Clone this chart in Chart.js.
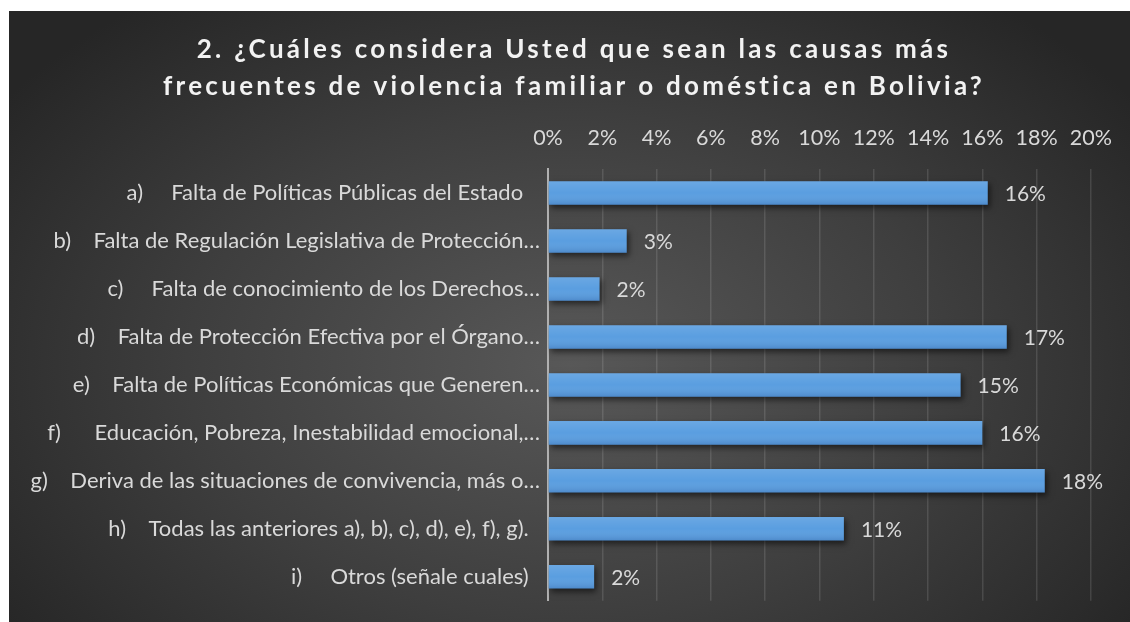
<!DOCTYPE html>
<html>
<head>
<meta charset="utf-8">
<script src="https://cdn.jsdelivr.net/npm/chart.js@4.4.1/dist/chart.umd.min.js"></script>
<style>
    html, body { margin: 0; padding: 0; background: #ffffff; }
    #wrap {
        position: absolute; left: 9px; top: 11px; width: 1121px; height: 611px;
        background: radial-gradient(ellipse 62% 75% at 50% 58%, #585858 0%, #3e3e3e 55%, #262626 100%);
    }
</style>
</head>
<body>
<div id="wrap"><canvas id="causes" width="1121" height="611"></canvas></div>
<script>
const titleLines = [
    '2. ¿Cuáles considera Usted que sean las causas más',
    'frecuentes de violencia familiar o doméstica en Bolivia?'
];
const categories = [
    'a)     Falta de Políticas Públicas del Estado   ',
    'b)    Falta de Regulación Legislativa de Protección…',
    'c)     Falta de conocimiento de los Derechos…',
    'd)    Falta de Protección Efectiva por el Órgano…',
    'e)    Falta de Políticas Económicas que Generen…',
    'f)      Educación, Pobreza, Inestabilidad emocional,…',
    'g)    Deriva de las situaciones de convivencia, más o…',
    'h)    Todas las anteriores a), b), c), d), e), f), g).  ',
    'i)     Otros (señale cuales)  '
];
const percentages = [16.2, 2.9, 1.9, 16.9, 15.2, 16.0, 18.3, 10.9, 1.7];
const tickMax = 20;
const tickStep = 2;

const textColor = '#d9d9d9';
const fontFamily = 'Lato, "Open Sans", sans-serif';

// titulo con espaciado entre letras
const spacedTitle = {
    id: 'spacedTitle',
    afterDraw(chart) {
        const ctx = chart.ctx;
        ctx.save();
        ctx.font = 'bold 26px ' + fontFamily;
        ctx.letterSpacing = '3.3px';
        ctx.fillStyle = '#f2f2f2';
        ctx.textAlign = 'center';
        ctx.textBaseline = 'middle';
        ctx.fillText(titleLines[0], 565, 39);
        ctx.fillText(titleLines[1], 565, 76);
        ctx.restore();
    }
};

// sombra de las barras, luego un degradado encima
const barStyle = {
    id: 'barStyle',
    beforeDatasetsDraw(chart) {
        const ctx = chart.ctx;
        ctx.save();
        ctx.shadowColor = 'rgba(0,0,0,0.55)';
        ctx.shadowBlur = 6;
        ctx.shadowOffsetX = 2;
        ctx.shadowOffsetY = 3;
    },
    afterDatasetsDraw(chart) {
        const ctx = chart.ctx;
        ctx.restore();
        ctx.save();
        chart.getDatasetMeta(0).data.forEach(bar => {
            const top = bar.y - bar.height / 2;
            const g = ctx.createLinearGradient(0, top, 0, top + bar.height);
            g.addColorStop(0, 'rgba(255,255,255,0.10)');
            g.addColorStop(0.5, 'rgba(255,255,255,0)');
            g.addColorStop(1, 'rgba(0,20,80,0.15)');
            ctx.fillStyle = g;
            ctx.fillRect(bar.base, top, bar.x - bar.base, bar.height);
        });
        ctx.restore();
    }
};

const valueLabels = {
    id: 'valueLabels',
    afterDraw(chart) {
        const ctx = chart.ctx;
        ctx.save();
        ctx.font = '21px ' + fontFamily;
        ctx.fillStyle = textColor;
        ctx.textAlign = 'left';
        ctx.textBaseline = 'middle';
        chart.getDatasetMeta(0).data.forEach((bar, i) => {
            ctx.fillText(Math.round(percentages[i]) + '%', bar.x + 17, bar.y + 1);
        });
        ctx.restore();
    }
};

new Chart(document.getElementById('causes').getContext('2d'), {
    type: 'bar',
    data: {
        labels: categories,
        datasets: [{
            label: '',
            data: percentages,
            backgroundColor: '#5a9ee0',
            borderWidth: 0,
            categoryPercentage: 1,
            barPercentage: 0.49
        }]
    },
    options: {
        indexAxis: 'y',
        responsive: false,
        animation: false,
        layout: { padding: { left: 0, right: 5, top: 0, bottom: 20 } },
        plugins: {
            legend: { display: false },
            title: { display: false },
            tooltip: { enabled: false }
        },
        scales: {
            x: {
                position: 'top',
                min: 0,
                max: tickMax,
                ticks: {
                    stepSize: tickStep,
                    color: textColor,
                    font: { family: fontFamily, size: 21.5 },
                    padding: 18,
                    callback: v => v + '%'
                },
                grid: { color: 'rgba(255,255,255,0.12)', lineWidth: 1.5, drawTicks: false },
                border: { display: false },
                afterFit: scale => { scale.height = 158; }
            },
            y: {
                ticks: {
                    color: textColor,
                    font: { family: fontFamily, size: 22 },
                    padding: 8,
                    autoSkip: false
                },
                grid: { display: false, drawTicks: false },
                border: { display: true, color: '#b0b0b0', width: 2 },
                afterFit: scale => { scale.width = 539; }
            }
        }
    },
    plugins: [spacedTitle, barStyle, valueLabels]
});
</script>
</body>
</html>
